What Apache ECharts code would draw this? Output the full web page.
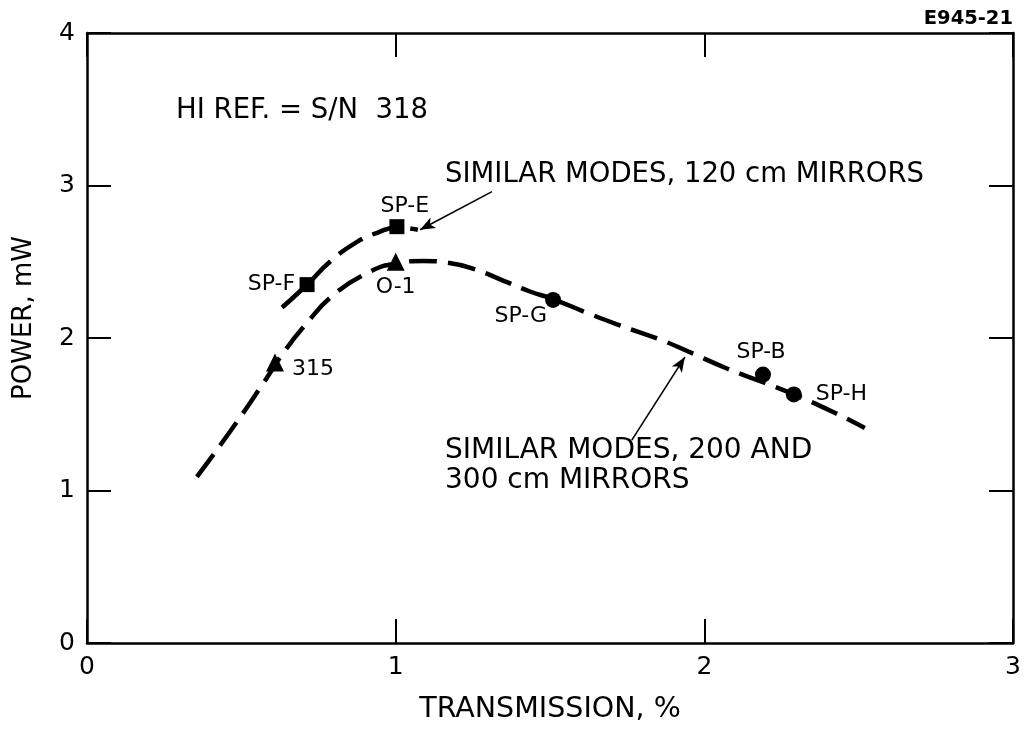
<!DOCTYPE html>
<html>
<head>
<meta charset="utf-8">
<script src="https://cdn.jsdelivr.net/npm/echarts@6/dist/echarts.min.js"></script>
<style>
html,body{margin:0;padding:0;background:#fff;}
#chart{width:1028px;height:729px;}
</style>
</head>
<body>
<div id="chart"></div>
<script>
// ---- data ----
const xTickValues = [0, 1, 2, 3];
const yTickValues = [0, 1, 2, 3, 4];

// dashed curve: similar modes, 120 cm mirrors
const upperCurveX = [0.632, 0.713, 0.787, 0.875, 0.94, 1.004, 1.072];
const upperCurveY = [2.20, 2.35, 2.50, 2.63, 2.69, 2.725, 2.71];

// dashed curve: similar modes, 200 and 300 cm mirrors
const lowerCurveX = [0.356, 0.463, 0.57, 0.635, 0.713, 0.797, 0.907, 1.004, 1.09, 1.165, 1.25, 1.35, 1.435, 1.51, 1.62, 1.717, 1.856, 1.944, 2.073, 2.19, 2.29, 2.417, 2.52];
const lowerCurveY = [1.09, 1.385, 1.70, 1.90, 2.10, 2.28, 2.425, 2.49, 2.505, 2.495, 2.455, 2.375, 2.305, 2.255, 2.165, 2.09, 1.99, 1.915, 1.80, 1.71, 1.63, 1.515, 1.41];

// measured points
const squareNames = ['SP-F', 'SP-E'];
const squareX = [0.713, 1.004];
const squareY = [2.35, 2.73];

const triangleNames = ['315', 'O-1'];
const triangleX = [0.609, 1.0];
const triangleY = [1.84, 2.50];

const circleNames = ['SP-G', 'SP-B', 'SP-H'];
const circleX = [1.51, 2.19, 2.29];
const circleY = [2.25, 1.76, 1.63];

// annotation arrows (tail, head) in data units
const arrowUpperX = [1.312, 1.079];
const arrowUpperY = [2.96, 2.71];
const arrowLowerX = [1.765, 1.937];
const arrowLowerY = [1.33, 1.875];

const xTitle = 'TRANSMISSION, %';
const yTitle = 'POWER, mW';
const noteText = 'HI REF. = S/N  318';
const upperCurveText = 'SIMILAR MODES, 120 cm MIRRORS';
const lowerCurveText = 'SIMILAR MODES, 200 AND\n300 cm MIRRORS';
const figId = 'E945-21';

// ---- styles ----
const FONT = 'DejaVu Sans';
const INK = '#000';
const labelStyle = {
  'SP-F': {align: 'right', offset: [-12, 0]},
  'SP-E': {align: 'center', offset: [8, -20]},
  '315':  {align: 'left', offset: [17, 7]},
  'O-1':  {align: 'center', offset: [0, 26]},
  'SP-G': {align: 'right', offset: [-6, 16]},
  'SP-B': {align: 'center', offset: [-2, -22]},
  'SP-H': {align: 'left', offset: [22, 0]}
};

function zip(xs, ys) { return xs.map((x, i) => [x, ys[i]]); }
function pointData(names, xs, ys) {
  return names.map((n, i) => ({
    name: n,
    value: [xs[i], ys[i]],
    label: Object.assign({show: true, formatter: n, position: 'inside', verticalAlign: 'middle',
      fontFamily: FONT, fontSize: 22, color: INK, opacity: 1}, labelStyle[n])
  }));
}

const chart = echarts.init(document.getElementById('chart'), null, {renderer: 'canvas'});

const axisLine = {show: true, onZero: false, lineStyle: {color: '#000', width: 2.5}};
const axisTick = {show: true, inside: true, length: 24, lineStyle: {color: '#000', width: 2}};
const curveStyle = {color: '#000', width: 4.5, type: [28, 11], cap: 'butt'};
const markerStyle = {color: '#000', opacity: 1};
const arrowStyle = {
  silent: true, symbol: ['none', 'arrow'], symbolSize: [9, 15],
  lineStyle: {color: '#000', width: 1.6, type: 'solid'},
  label: {show: false}
};

chart.setOption({
  animation: false,
  backgroundColor: '#fff',
  textStyle: {fontFamily: FONT},
  grid: {left: 87, right: 15, top: 33, bottom: 86, containLabel: false},
  xAxis: [
    {
      type: 'value', min: xTickValues[0], max: xTickValues[xTickValues.length - 1], interval: 1,
      position: 'bottom',
      axisLine, axisTick,
      axisLabel: {fontFamily: FONT, fontSize: 25, color: INK, margin: 12},
      splitLine: {show: false},
      name: xTitle, nameLocation: 'middle', nameGap: 52,
      nameTextStyle: {fontFamily: FONT, fontSize: 28.5, color: INK}
    },
    {
      type: 'value', min: xTickValues[0], max: xTickValues[xTickValues.length - 1], interval: 1,
      position: 'top',
      axisLine, axisTick,
      axisLabel: {show: false},
      splitLine: {show: false}
    }
  ],
  yAxis: [
    {
      type: 'value', min: yTickValues[0], max: yTickValues[yTickValues.length - 1], interval: 1,
      position: 'left',
      axisLine, axisTick,
      axisLabel: {fontFamily: FONT, fontSize: 25, color: INK, margin: 12},
      splitLine: {show: false}
    },
    {
      type: 'value', min: yTickValues[0], max: yTickValues[yTickValues.length - 1], interval: 1,
      position: 'right',
      axisLine, axisTick,
      axisLabel: {show: false},
      splitLine: {show: false}
    }
  ],
  series: [
    {
      type: 'line', name: 'upper', smooth: 0.5, showSymbol: false, silent: true,
      data: zip(upperCurveX, upperCurveY),
      lineStyle: curveStyle,
      markLine: Object.assign({}, arrowStyle, {
        data: [[{coord: [arrowUpperX[0], arrowUpperY[0]]}, {coord: [arrowUpperX[1], arrowUpperY[1]]}]]
      })
    },
    {
      type: 'line', name: 'lower', smooth: 0.5, showSymbol: false, silent: true,
      data: zip(lowerCurveX, lowerCurveY),
      lineStyle: curveStyle,
      markLine: Object.assign({}, arrowStyle, {
        data: [[{coord: [arrowLowerX[0], arrowLowerY[0]]}, {coord: [arrowLowerX[1], arrowLowerY[1]]}]]
      })
    },
    {
      type: 'scatter', symbol: 'rect', symbolSize: 15, silent: true,
      itemStyle: markerStyle,
      data: pointData(squareNames, squareX, squareY)
    },
    {
      type: 'scatter', symbol: 'triangle', symbolSize: 18, silent: true,
      itemStyle: markerStyle,
      data: pointData(triangleNames, triangleX, triangleY)
    },
    {
      type: 'scatter', symbol: 'circle', symbolSize: 16, silent: true,
      itemStyle: markerStyle,
      data: pointData(circleNames, circleX, circleY)
    }
  ],
  graphic: [
    {type: 'text', x: 24, y: 318, rotation: Math.PI / 2,
      style: {text: yTitle, fontFamily: FONT, fontSize: 26, fill: INK, align: 'center', verticalAlign: 'middle'}},
    {type: 'text', left: 176, top: 97, style: {text: noteText, fontFamily: FONT, fontSize: 27.5, fill: INK}},
    {type: 'text', left: 445, top: 161, style: {text: upperCurveText, fontFamily: FONT, fontSize: 27.5, fill: INK}},
    {type: 'text', left: 445, top: 436, style: {text: lowerCurveText, fontFamily: FONT, fontSize: 28, lineHeight: 30, fill: INK}},
    {type: 'text', right: 15, top: 9, style: {text: figId, fontFamily: FONT, fontSize: 19.5, fontWeight: 'bold', fill: INK}}
  ]
});
</script>
</body>
</html>
